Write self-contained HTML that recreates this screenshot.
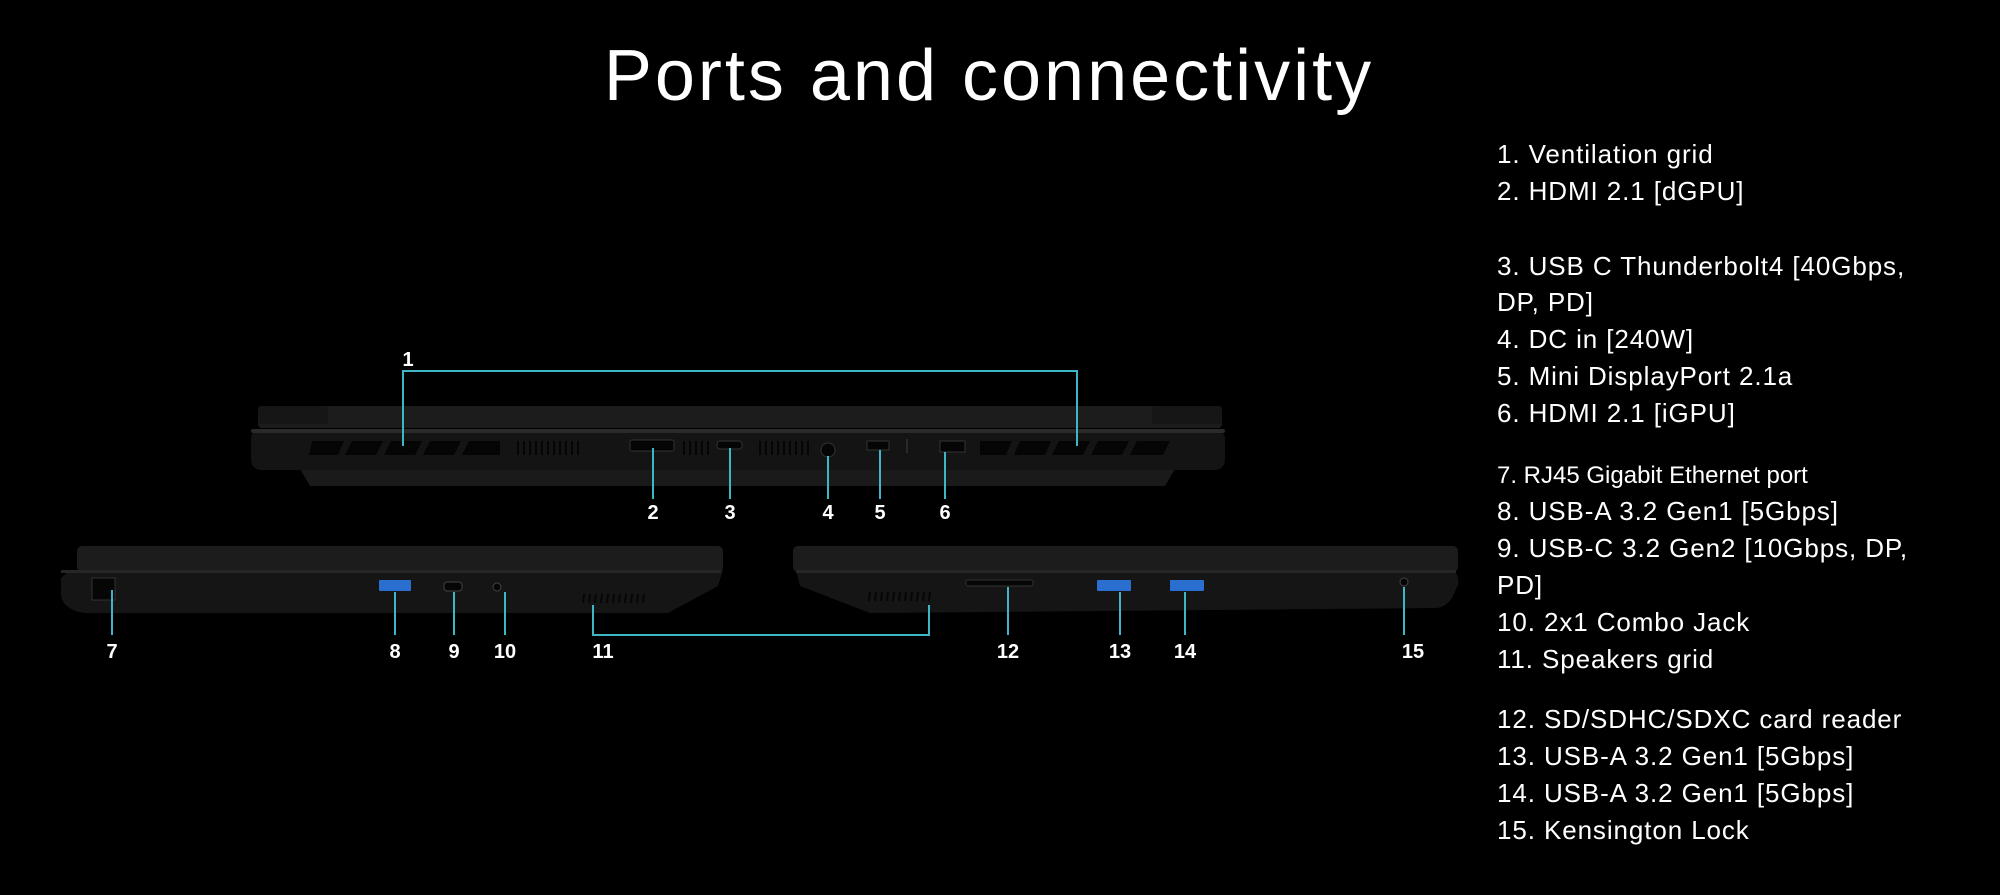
<!DOCTYPE html>
<html><head><meta charset="utf-8"><style>
html,body{margin:0;padding:0;background:#000;}
svg{display:block}
text{font-family:"Liberation Sans",sans-serif;}
</style></head><body>
<svg width="2000" height="895" viewBox="0 0 2000 895" xmlns="http://www.w3.org/2000/svg">
<rect width="2000" height="895" fill="#000"/>
<text x="989" y="100" font-size="72" letter-spacing="3" fill="#fff" text-anchor="middle">Ports and connectivity</text>

<!-- right list -->
<g fill="#fff" font-size="26" letter-spacing="0.9">
<text x="1497" y="163">1.  Ventilation grid</text>
<text x="1497" y="200">2. HDMI 2.1 [dGPU]</text>
<text x="1497" y="275">3. USB C Thunderbolt4 [40Gbps,</text>
<text x="1497" y="311">DP, PD]</text>
<text x="1497" y="348">4. DC in [240W]</text>
<text x="1497" y="385">5. Mini DisplayPort 2.1a</text>
<text x="1497" y="422">6. HDMI 2.1 [iGPU]</text>
<text x="1497" y="483" font-size="24" letter-spacing="0">7. RJ45 Gigabit Ethernet port</text>
<text x="1497" y="520">8. USB-A 3.2 Gen1  [5Gbps]</text>
<text x="1497" y="557">9.  USB-C 3.2 Gen2  [10Gbps, DP,</text>
<text x="1497" y="594">PD]</text>
<text x="1497" y="631">10. 2x1 Combo Jack</text>
<text x="1497" y="668">11. Speakers grid</text>
<text x="1497" y="728">12. SD/SDHC/SDXC card reader</text>
<text x="1497" y="765">13. USB-A  3.2 Gen1  [5Gbps]</text>
<text x="1497" y="802">14. USB-A  3.2 Gen1  [5Gbps]</text>
<text x="1497" y="839">15. Kensington Lock</text>
</g>

<!-- back view -->
<rect x="258" y="406" width="964" height="22" rx="4" fill="#1c1c1c"/>
<rect x="258" y="406" width="70" height="18" rx="3" fill="#161616"/>
<rect x="1152" y="406" width="70" height="18" rx="3" fill="#161616"/>
<path d="M300 469 L1175 469 L1165 486 L310 486 Z" fill="#1a1a1a"/>
<rect x="251" y="429" width="974" height="41" rx="10" fill="#141414"/>
<rect x="251" y="429" width="974" height="4" rx="2" fill="#2a2a2a"/>
<g fill="#050505">
<path d="M312 441 L344 441 L338 455 L309 455 Z"/>
<path d="M352 441 L383 441 L376 455 L345 455 Z"/>
<path d="M391 441 L422 441 L415 455 L384 455 Z"/>
<path d="M430 441 L461 441 L454 455 L423 455 Z"/>
<path d="M469 441 L500 441 L500 455 L462 455 Z"/>
<path d="M980 441 L1012 441 L1006 455 L980 455 Z"/>
<path d="M1020 441 L1051 441 L1045 455 L1014 455 Z"/>
<path d="M1059 441 L1090 441 L1083 455 L1052 455 Z"/>
<path d="M1098 441 L1129 441 L1122 455 L1091 455 Z"/>
<path d="M1137 441 L1170 441 L1163 455 L1130 455 Z"/>
</g>
<g stroke="#050505" stroke-width="2">
<path d="M518 441v14M524 441v14M530 441v14M536 441v14M542 441v14M548 441v14M554 441v14M560 441v14M566 441v14M572 441v14M578 441v14"/>
<path d="M684 441v14M690 441v14M696 441v14M702 441v14M708 441v14"/>
<path d="M760 441v14M766 441v14M772 441v14M778 441v14M784 441v14M790 441v14M796 441v14M802 441v14M808 441v14"/>
</g>
<rect x="630" y="440" width="44" height="11" rx="2" fill="#050505" stroke="#333"/>
<rect x="717" y="441" width="25" height="8" rx="3" fill="#050505" stroke="#333"/>
<circle cx="828" cy="450" r="7" fill="#050505" stroke="#333"/>
<rect x="867" y="441" width="22" height="9" fill="#050505" stroke="#333"/>
<rect x="906" y="439" width="2" height="14" fill="#2a2a2a"/>
<rect x="940" y="441" width="25" height="11" fill="#050505" stroke="#333"/>

<!-- side left -->
<rect x="77" y="546" width="646" height="26" rx="5" fill="#1c1c1c"/>
<path d="M70 570 L723 570 L718 586 L668 613 L85 613 Q63 610 61 595 L61 578 Z" fill="#151515"/>
<rect x="61" y="570" width="660" height="3" fill="#262626"/>
<rect x="92" y="578" width="23" height="22" fill="#060606" stroke="#333"/>
<rect x="379" y="580" width="32" height="11" rx="1" fill="#2a6fd0"/>
<rect x="444" y="582" width="18" height="9" rx="3" fill="#060606" stroke="#444"/>
<circle cx="497" cy="587" r="4" fill="#060606" stroke="#444"/>
<g stroke="#060606" stroke-width="2"><path d="M584 594l-1 9M590 594l-1 9M596 594l-1 9M602 594l-1 9M608 594l-1 9M614 594l-1 9M620 594l-1 9M626 594l-1 9M632 594l-1 9M638 594l-1 9M644 594l-1 9"/></g>

<!-- side right -->
<rect x="793" y="546" width="665" height="26" rx="5" fill="#1c1c1c"/>
<path d="M796 570 L1450 570 Q1460 572 1458 585 L1452 598 Q1445 608 1435 608 L870 613 L800 586 Z" fill="#151515"/>
<rect x="796" y="570" width="660" height="3" fill="#262626"/>
<rect x="966" y="580" width="67" height="6" rx="2" fill="#060606" stroke="#333"/>
<rect x="1097" y="580" width="34" height="11" rx="1" fill="#2a6fd0"/>
<rect x="1170" y="580" width="34" height="11" rx="1" fill="#2a6fd0"/>
<circle cx="1404" cy="582" r="4" fill="#060606" stroke="#444"/>
<g stroke="#060606" stroke-width="2"><path d="M870 592l-1 9M876 592l-1 9M882 592l-1 9M888 592l-1 9M894 592l-1 9M900 592l-1 9M906 592l-1 9M912 592l-1 9M918 592l-1 9M924 592l-1 9M930 592l-1 9"/></g>

<!-- leader lines -->
<g stroke="#3fb5c8" stroke-width="2" fill="none">
<path d="M403 446 V371 H1077 V446"/>
<path d="M653 448 V499"/><path d="M730 448 V499"/><path d="M828 456 V499"/><path d="M880 450 V499"/><path d="M945 452 V499"/>
<path d="M112 590 V635"/><path d="M395 592 V635"/><path d="M454 592 V635"/><path d="M505 592 V635"/>
<path d="M593 605 V635 H929 V605"/>
<path d="M1008 587 V635"/><path d="M1120 592 V635"/><path d="M1185 592 V635"/><path d="M1404 587 V635"/>
</g>
<g fill="#fff" font-size="20" font-weight="bold" text-anchor="middle">
<text x="408" y="366">1</text>
<text x="653" y="519">2</text><text x="730" y="519">3</text><text x="828" y="519">4</text><text x="880" y="519">5</text><text x="945" y="519">6</text>
<text x="112" y="658">7</text><text x="395" y="658">8</text><text x="454" y="658">9</text><text x="505" y="658">10</text><text x="603" y="658">11</text>
<text x="1008" y="658">12</text><text x="1120" y="658">13</text><text x="1185" y="658">14</text><text x="1413" y="658">15</text>
</g>
</svg>
</body></html>
